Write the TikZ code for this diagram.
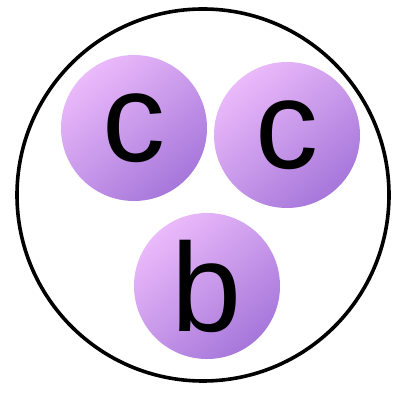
\documentclass[tikz,border=0pt]{standalone}
\usepackage{fontspec}
\setmainfont{Liberation Sans}
\definecolor{balllight}{HTML}{EBBAFB}
\definecolor{balldark}{HTML}{A677DA}
\begin{document}
\begin{tikzpicture}[x=1pt,y=1pt,
  ball/.style={circle, minimum size=146pt, inner sep=0pt,
    top color=balllight, bottom color=balldark, shading angle=40,
    font=\fontsize{126}{126}\selectfont, text=black},
  outer/.style={circle, draw=black, line width=3.6pt, minimum size=372pt, inner sep=0pt}]
\useasboundingbox (0,0) rectangle (401,393);
\fill[white] (0,0) rectangle (401,393);
\node[outer] (ring) at (203,198) {};
\node[ball] (c1) at (134,265) {c};
\node[ball] (c2) at (287,258) {c};
\node[ball] (b) at (207,107) {b};
\end{tikzpicture}
\end{document}
